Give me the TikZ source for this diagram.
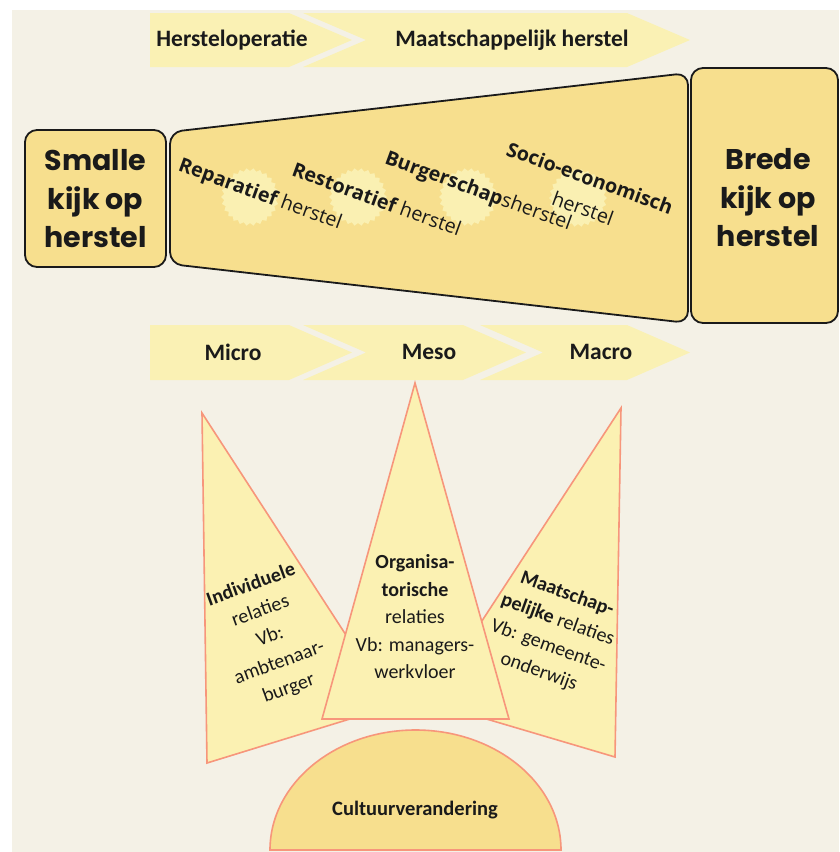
\documentclass[tikz,border=0pt]{standalone}
\usepackage{fontspec}
\setmainfont{Carlito}
\newfontfamily\popfont{Poppins}
\newfontfamily\osfont{Open Sans}
\usetikzlibrary{shapes.geometric}
\definecolor{bgbeige}{HTML}{F4F1E6}
\definecolor{banner}{HTML}{FAF1B4}
\definecolor{boxfill}{HTML}{F7DF8E}
\definecolor{trifill}{HTML}{FBF1B2}
\definecolor{salmon}{HTML}{F7967B}
\definecolor{badge}{HTML}{FAF0B2}
\definecolor{ink}{HTML}{1A1A1A}
\begin{document}
\begin{tikzpicture}[x=1pt,y=-1pt,
  bannerlbl/.style={font=\fontsize{23.5}{27}\selectfont\bfseries, text=ink, inner sep=0},
  bigbox/.style={draw=ink, line width=1.8pt, fill=boxfill, rounded corners=12pt},
  bigtxt/.style={font=\popfont\bfseries\fontsize{28.5}{38.5}\selectfont, align=center, text=ink, inner sep=0},
  herst/.style={font=\osfont\fontsize{19.7}{24}\selectfont, text=ink, rotate=-20, inner sep=0},
  tri/.style={draw=salmon, line width=1.6pt, fill=trifill, line join=miter},
  tritxt/.style={font=\fontsize{20}{27.5}\selectfont, align=center, text=ink, inner sep=0},
  badgestar/.style={star, star points=26, star point ratio=0.9, fill=badge, draw=none, minimum size=52pt, inner sep=0}
]
\useasboundingbox (0,0) rectangle (839,852);
\fill[white] (0,0) rectangle (839,852);
\fill[bgbeige] (12,10) rectangle (839,852);

% top banner
\fill[banner] (150,13) -- (289,13) -- (352,40) -- (289,67) -- (150,67) -- cycle;
\fill[banner] (303,13) -- (627,13) -- (690,40) -- (627,67) -- (303,67) -- (366,40) -- cycle;
\node[bannerlbl] (hersteloperatie) at (232,40) {Hersteloperatie};
\node[bannerlbl] (maatschappelijk) at (512,40) {Maatschappelijk herstel};

% bottom banner
\fill[banner] (150,325) -- (289,325) -- (352,352.5) -- (289,380) -- (150,380) -- cycle;
\fill[banner] (303,325) -- (463,325) -- (526,352.5) -- (463,380) -- (303,380) -- (366,352.5) -- cycle;
\fill[banner] (480,325) -- (627,325) -- (690,352.5) -- (627,380) -- (480,380) -- (543,352.5) -- cycle;
\node[bannerlbl] (micro) at (233,352) {Micro};
\node[bannerlbl] (meso) at (429,352) {Meso};
\node[bannerlbl] (macro) at (601,352) {Macro};

% boxes
\draw[bigbox] (25,130) rectangle (166,267);
\node[bigtxt] (smalle) at (95.5,199) {Smalle\\kijk op\\herstel};
\draw[bigbox] (170,132) -- (688,73) -- (688,323) -- (170,264) -- cycle;
\draw[bigbox] (691,68) rectangle (838,323);
\node[bigtxt] (brede) at (768,198) {Brede\\kijk op\\herstel};

% badges
\node[badgestar] (b1) at (250,197) {};
\node[badgestar] (b2) at (358,197) {};
\node[badgestar] (b3) at (468,197) {};
\node[badgestar] (b4) at (578,198) {};

% rotated texts
\node[herst] (rep) at (260,195) {{\bfseries Reparatief} herstel};
\node[herst] (res) at (377,199) {{\bfseries Restoratief} herstel};
\node[herst] (bur) at (478,192) {{\bfseries Burgerschap}sherstel};
\node[herst] (soc1) at (590,178) {\bfseries Socio-economisch};
\node[herst] (soc2) at (583,208) {herstel};

% triangles
\draw[tri] (202,413) -- (392,706) -- (207,763) -- cycle;
\draw[tri] (621,408) -- (615,757) -- (429,702) -- cycle;
\draw[tri] (415,383) -- (509,719) -- (322,719) -- cycle;

\node[tritxt, rotate=20] (indiv) at (270,637) {\textbf{Individuele}\\relaties\\Vb:\\ambtenaar-\\burger};
\node[tritxt] (organ) at (415,617) {\textbf{Organisa-}\\\textbf{torische}\\relaties\\Vb: managers-\\werkvloer};
\node[tritxt, rotate=-20] (maat) at (553,633) {\textbf{Maatschap-}\\\textbf{pelijke} relaties\\Vb: gemeente-\\onderwijs};

% semicircle
\draw[draw=salmon, line width=1.6pt, fill=boxfill] (270,850) arc[start angle=180, end angle=0, x radius=145.5pt, y radius=120pt] -- cycle;
\node[bannerlbl, font=\fontsize{20.5}{24}\selectfont\bfseries] (cultuur) at (415,810) {Cultuurverandering};
\end{tikzpicture}
\end{document}
